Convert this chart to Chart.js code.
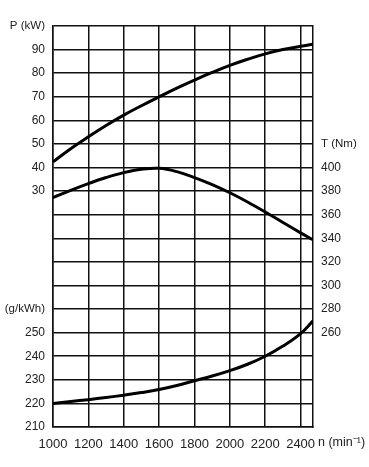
<!DOCTYPE html>
<html>
<head>
<meta charset="utf-8">
<script src="https://cdn.jsdelivr.net/npm/chart.js@4"></script>
<style>
  html, body { margin: 0; padding: 0; background: #fff; }
  #wrap { width: 369px; height: 467px; }
</style>
</head>
<body>
<div id="wrap"><canvas id="myChart" width="369" height="467"></canvas></div>
<script>
// engine speed n (min^-1)
var rpm = [1000, 1100, 1200, 1300, 1400, 1500, 1600, 1700, 1800, 1900, 2000, 2100, 2200, 2300, 2400, 2470];
// power P (kW)
var power = [42.4, 48, 53, 57.8, 62.2, 66.2, 70, 73.7, 77.1, 80.3, 83.3, 85.9, 88.2, 90, 91.4, 92.3];
// torque T (Nm)
var torque = [374.5, 380.7, 386.4, 391.5, 395.7, 398.5, 399.3, 396.5, 391.5, 385.5, 378.6, 370.8, 362.3, 353.4, 344.6, 338.8];
// specific fuel consumption (g/kWh)
var bsfc = [220, 220.8, 221.6, 222.5, 223.5, 224.6, 225.9, 227.6, 229.6, 231.6, 233.9, 236.6, 240, 244.3, 249.6, 255];

// tick labels shown on each scale
var rpmTicks = [1000, 1200, 1400, 1600, 1800, 2000, 2200, 2400];
var pTicks = [30, 40, 50, 60, 70, 80, 90];
var tTicks = [260, 280, 300, 320, 340, 360, 380, 400];
var bTicks = [210, 220, 230, 240, 250];

// all three y scales share the same 17 grid rows
var P_MIN = -70, P_MAX = 100;
var T_MIN = 180, T_MAX = 520;
var B_MIN = 210, B_MAX = 380;

function pts(ys) {
	return rpm.map(function (x, i) { return { x: x, y: ys[i] }; });
}

var family = '"Liberation Sans", Arial, sans-serif';
var ink = '#222';

// unit labels a little smaller than the numbers
function tickFont(c) {
	var lbl = c.tick && c.tick.label;
	var isNum = lbl === '' || !isNaN(Number(lbl));
	return { family: family, size: isNum ? 12 : 11.5 };
}

var unitLabel = {
	id: 'unitLabel',
	afterDraw: function (chart) {
		var c = chart.ctx, a = chart.chartArea;
		c.save();
		c.font = '12.5px ' + family;
		c.fillStyle = ink;
		c.textBaseline = 'middle';
		c.fillText('n (min\u207B\u00B9)', a.right + 5, chart.scales.x.top + 16);
		c.restore();
	}
};

var line = { borderColor: '#000', borderWidth: 3, pointRadius: 0, fill: false, tension: 0.4 };

var ctx = document.getElementById("myChart").getContext('2d');
var myChart = new Chart(ctx, {
	type: 'line',
	data: {
		datasets: [
			Object.assign({ label: 'P (kW)', data: pts(power), yAxisID: 'y' }, line),
			Object.assign({ label: 'T (Nm)', data: pts(torque), yAxisID: 'yT' }, line),
			Object.assign({ label: 'g/kWh', data: pts(bsfc), yAxisID: 'yB' }, line)
		]
	},
	options: {
		responsive: false,
		animation: false,
		layout: { padding: { top: 26 } },
		plugins: { legend: { display: false }, tooltip: { enabled: false } },
		scales: {
			x: {
				type: 'linear', min: 1000, max: 2470,
				afterFit: function (s) { s.height = 40; },
				afterBuildTicks: function (s) {
					s.ticks = rpmTicks.map(function (v) { return { value: v }; });
				},
				grid: { color: '#111', lineWidth: 1.5, drawTicks: false },
				border: { color: '#111', width: 1.5 },
				ticks: {
					padding: 10, color: ink, font: { family: family, size: 13 }, maxRotation: 0, autoSkip: false,
					callback: function (v) { return String(v); }
				}
			},
			y: {
				position: 'left', min: P_MIN, max: P_MAX,
				afterFit: function (s) { s.width = 53; },
				grid: { color: '#111', lineWidth: 1.5, drawTicks: false },
				border: { color: '#111', width: 1.5 },
				ticks: {
					stepSize: 10, padding: 8, color: ink, font: tickFont, autoSkip: false,
					callback: function (v) {
						v = Math.round(v);
						if (v === P_MAX) return 'P (kW)';
						if (pTicks.indexOf(v) >= 0) return String(v);
						// lower half of the left scale carries the fuel consumption values
						var b = B_MIN + (v - P_MIN);
						if (bTicks.indexOf(b) >= 0) return String(b);
						if (b === 260) return '(g/kWh)';
						return '';
					}
				}
			},
			yT: {
				position: 'right', min: T_MIN, max: T_MAX,
				afterFit: function (s) { s.width = 56; },
				grid: { drawOnChartArea: false, drawTicks: false },
				border: { color: '#111', width: 1.5 },
				ticks: {
					stepSize: 20, padding: 8, color: ink, font: tickFont, autoSkip: false,
					callback: function (v) {
						v = Math.round(v);
						if (v === 420) return 'T (Nm)';
						return tTicks.indexOf(v) >= 0 ? String(v) : '';
					}
				}
			},
			yB: { display: false, min: B_MIN, max: B_MAX }
		}
	},
	plugins: [unitLabel]
});
</script>
</body>
</html>
